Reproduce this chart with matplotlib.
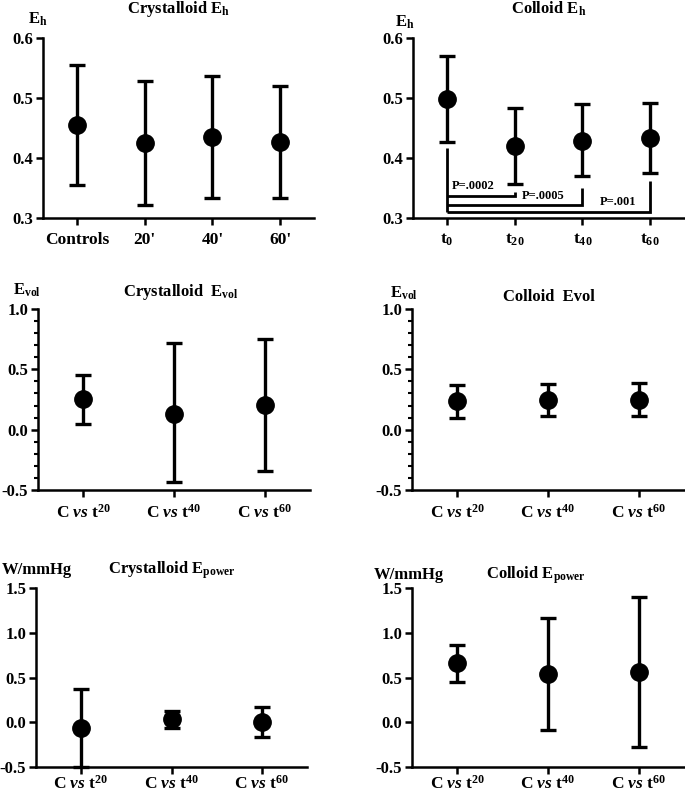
import numpy as np
import matplotlib
matplotlib.use("Agg")
import matplotlib.pyplot as plt

plt.rcParams["font.family"] = ["Liberation Serif", "DejaVu Serif"]
plt.rcParams["font.weight"] = "bold"
plt.rcParams["mathtext.fontset"] = "custom"
plt.rcParams["mathtext.rm"] = "Liberation Serif:bold"
plt.rcParams["mathtext.bf"] = "Liberation Serif:bold"
plt.rcParams["mathtext.it"] = "Liberation Serif:bold:italic"
plt.rcParams["mathtext.default"] = "rm"
plt.rcParams["axes.unicode_minus"] = False

# ---- data ----
cryst_eh_labels = ["Controls", "20'", "40'", "60'"]
cryst_eh_mean = [0.455, 0.425, 0.435, 0.426]
cryst_eh_low = [0.355, 0.322, 0.333, 0.333]
cryst_eh_high = [0.555, 0.528, 0.537, 0.520]

coll_eh_labels = ["t$_0$", "t$_{20}$", "t$_{40}$", "t$_{60}$"]
coll_eh_mean = [0.498, 0.420, 0.429, 0.433]
coll_eh_low = [0.427, 0.357, 0.370, 0.375]
coll_eh_high = [0.570, 0.484, 0.490, 0.492]

# comparison brackets (t0 vs t20/t40/t60)
p_labels = ["P=.0002", "P=.0005", "P=.001"]
p_targets = [1, 2, 3]
p_bar_y = [0.337, 0.3217, 0.3106]
p_tick_top = [0.343, 0.350, 0.361]
p_start_top = 0.417

cmp_labels = [r"C $\mathit{vs}$ t$^{20}$", r"C $\mathit{vs}$ t$^{40}$", r"C $\mathit{vs}$ t$^{60}$"]

cryst_evol_mean = [0.255, 0.133, 0.202]
cryst_evol_low = [0.044, -0.437, -0.340]
cryst_evol_high = [0.457, 0.720, 0.750]

coll_evol_mean = [0.240, 0.244, 0.250]
coll_evol_low = [0.100, 0.110, 0.110]
coll_evol_high = [0.374, 0.380, 0.390]

cryst_epow_mean = [-0.063, 0.033, 0.004]
cryst_epow_low = [-0.495, -0.060, -0.163]
cryst_epow_high = [0.370, 0.122, 0.170]

coll_epow_mean = [0.658, 0.536, 0.566]
coll_epow_low = [0.455, -0.089, -0.274]
coll_epow_high = [0.858, 1.165, 1.405]

W, H = 685, 794
fig = plt.figure(figsize=(W / 100, H / 100), dpi=100)


def rect(l, r, t, b):
    return [l / W, 1 - b / H, (r - l) / W, (b - t) / H]


def panel(box, labels, mean, low, high, ylim, yticks, minor=None, xpad=5):
    ax = fig.add_axes(rect(*box))
    x = np.arange(len(labels))
    mean = np.array(mean)
    err = [mean - np.array(low), np.array(high) - mean]
    ax.errorbar(x, mean, yerr=err, fmt="o", color="black", ms=12.5,
                elinewidth=2.4, capsize=5.5, capthick=2.4, clip_on=False, zorder=3)
    ax.set_xlim(-0.5, len(labels) - 0.5)
    ax.set_ylim(*ylim)
    ax.set_yticks(yticks)
    if minor is not None:
        ax.set_yticks(minor, minor=True)
    ax.set_xticks(x)
    ax.set_xticklabels(labels)
    for s in ["top", "right"]:
        ax.spines[s].set_visible(False)
    for s in ["left", "bottom"]:
        ax.spines[s].set_linewidth(1.8)
    ax.tick_params(which="major", width=1.8, length=5, labelsize=12, pad=2)
    ax.tick_params(which="minor", width=1.5, length=3)
    ax.tick_params(axis="x", pad=xpad, labelsize=12.5)
    return ax


def label(xpx, ypx, s, size=12, ha="center"):
    fig.text(xpx / W, 1 - ypx / H, s, ha=ha, va="center", fontsize=size,
             fontweight="bold")


# top row
panel((43, 314, 38, 218), cryst_eh_labels, cryst_eh_mean, cryst_eh_low,
      cryst_eh_high, (0.3, 0.6), [0.3, 0.4, 0.5, 0.6])
label(179, 9, "Crystalloid E$_\\mathrm{h}$")
label(38, 19, "E$_\\mathrm{h}$")

ax2 = panel((413, 684, 38, 218), coll_eh_labels, coll_eh_mean, coll_eh_low,
            coll_eh_high, (0.3, 0.6), [0.3, 0.4, 0.5, 0.6])
label(549, 9, "Colloid E$_\\mathrm{h}$")
label(405, 22, "E$_\\mathrm{h}$")

ax2.plot([0, 0], [p_start_top, p_bar_y[-1]], color="black", lw=2, solid_capstyle="butt")
for tgt, yb, yt in zip(p_targets, p_bar_y, p_tick_top):
    ax2.plot([0, tgt, tgt], [yb, yb, yt], color="black", lw=2,
             solid_capstyle="butt", solid_joinstyle="miter")
ax2.text(0.07, 0.353, p_labels[0], fontsize=9, fontweight="bold", va="center")
ax2.text(1.1, 0.336, p_labels[1], fontsize=9, fontweight="bold", va="center")
ax2.text(2.25, 0.326, p_labels[2], fontsize=9, fontweight="bold", va="center")

# middle row
evol_minor = np.arange(-0.5, 1.01, 0.1)
panel((38, 310, 309, 490), cmp_labels, cryst_evol_mean, cryst_evol_low,
      cryst_evol_high, (-0.5, 1.0), [-0.5, 0.0, 0.5, 1.0], evol_minor)
label(181, 292, "Crystalloid  E$_\\mathrm{vol}$")
label(27, 290, "E$_\\mathrm{vol}$")

panel((412, 684, 309, 490), cmp_labels, coll_evol_mean, coll_evol_low,
      coll_evol_high, (-0.5, 1.0), [-0.5, 0.0, 0.5, 1.0], evol_minor)
label(549, 297, "Colloid  Evol")
label(404, 293, "E$_\\mathrm{vol}$")

# bottom row
panel((36, 307, 588, 767), cmp_labels, cryst_epow_mean, cryst_epow_low,
      cryst_epow_high, (-0.5, 1.5), [-0.5, 0.0, 0.5, 1.0, 1.5], xpad=0.5)
label(172, 570, "Crystalloid E$_\\mathrm{power}$")
label(37, 570, "W/mmHg")

panel((412, 684, 588, 767), cmp_labels, coll_epow_mean, coll_epow_low,
      coll_epow_high, (-0.5, 1.5), [-0.5, 0.0, 0.5, 1.0, 1.5], xpad=0.5)
label(536, 575, "Colloid E$_\\mathrm{power}$")
label(409, 575, "W/mmHg")

fig.savefig("out.png", dpi=100)
